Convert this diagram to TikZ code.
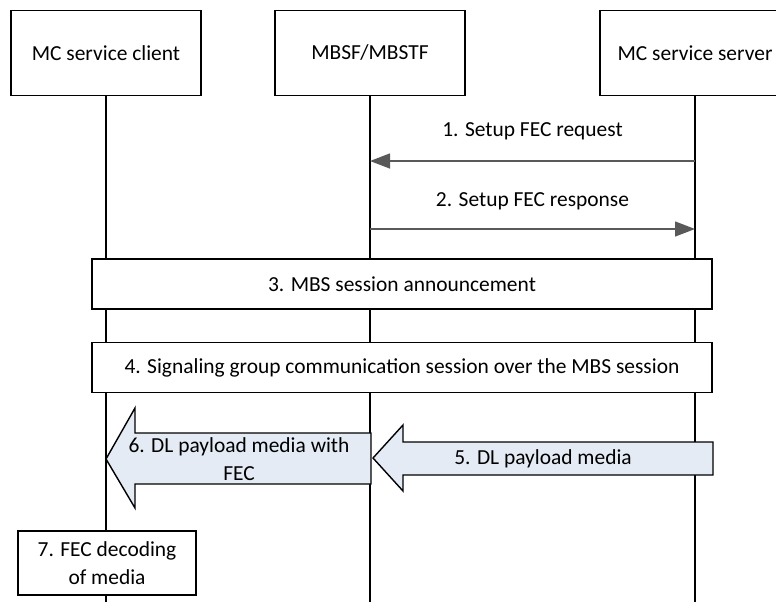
\documentclass[tikz,border=0pt]{standalone}
\usepackage{fontspec}
\setmainfont{Carlito}
\usepackage{tikz}
\usetikzlibrary{arrows.meta, positioning, calc}
\definecolor{arrowfill}{HTML}{E4EBF5}
\definecolor{msggray}{HTML}{595959}

\begin{document}
\begin{tikzpicture}[
    x=0.02cm, y=-0.02cm,
    every node/.style={font=\fontsize{12.2}{15.8}\selectfont},
    entity/.style={rectangle, draw=black, line width=0.8pt, fill=white, minimum width=3.8cm, minimum height=1.7cm, align=center},
    stepbox/.style={rectangle, draw=black, line width=0.8pt, fill=white, minimum width=12.4cm, minimum height=1cm, align=center},
    procbox/.style={rectangle, draw=black, line width=0.8pt, fill=white, minimum width=3.56cm, minimum height=1.28cm, align=center},
    lifeline/.style={line width=0.8pt, black},
    msg/.style={-{Triangle[length=0.4cm, width=0.3cm]}, line width=0.8pt, msggray},
    blockarrow/.style={draw=black, line width=0.8pt, fill=arrowfill},
    msglabel/.style={text=black},
]
    \useasboundingbox (0,0) rectangle (776,602);

    \node[entity] (client) at (106,53) {MC service client};
    \node[entity] (mbsf) at (370,53) {MBSF/MBSTF};
    \node[entity] (server) at (695,53) {MC service server};

    \coordinate (end) at (0,602);
    \coordinate (req) at (0,161);
    \coordinate (resp) at (0,229);

    \foreach \n in {client, mbsf, server}
        \draw[lifeline] (\n.south) -- (\n.south |- end);

    \draw[msg] (server.south |- req) -- node[midway, yshift=0.6cm, msglabel] {1. Setup FEC request} (mbsf.south |- req);
    \draw[msg] (mbsf.south |- resp) -- node[midway, yshift=0.56cm, msglabel] {2. Setup FEC response} (server.south |- resp);

    \node[stepbox] (announce) at (402,284) {3. MBS session announcement};
    \node[stepbox] (signal) at (402,367.5) {4. Signaling group communication session over the MBS session};

    \draw[blockarrow] (713,442) -- (403,442) -- (403,425) -- (373,458) -- (403,491) -- (403,475) -- (713,475) -- cycle;
    \node[msglabel] (dl5) at (543,459) {5. DL payload media};

    \draw[blockarrow] (371,433) -- (135,433) -- (135,408) -- (106,459) -- (135,508) -- (135,484) -- (371,484) -- cycle;
    \node[msglabel, align=center] (dl6) at (239,459) {6. DL payload media with\\FEC};

    \node[procbox] (decode) at (107,563) {7. FEC decoding\\of media};
\end{tikzpicture}
\end{document}
